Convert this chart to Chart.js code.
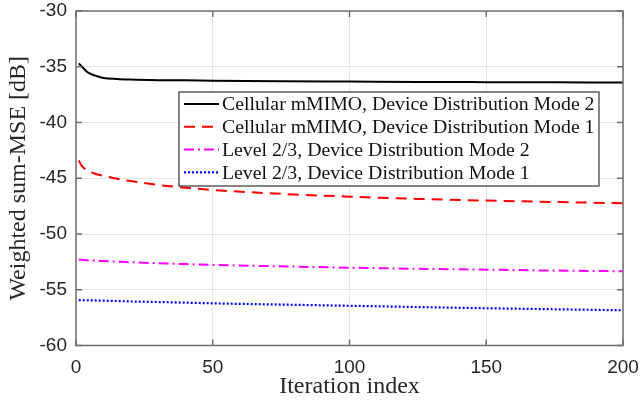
<!DOCTYPE html>
<html lang="en">
<head>
<meta charset="UTF-8">
<title>Weighted sum-MSE vs iteration</title>
<style>
    body {
        margin: 0;
        padding: 0;
        background: #fff;
    }
    .chart-container {
        position: relative;
        width: 642px;
        height: 405px;
    }
</style>
</head>
<body>
<div class="chart-container">
    <canvas id="mseChart" width="642" height="405"></canvas>
</div>

<script src="https://cdn.jsdelivr.net/npm/chart.js"></script>
<script>
    // Iteration indices where the curves are sampled
    const iterations = [1, 2, 3, 4, 5, 7, 10, 15, 20, 30, 40, 50, 75, 100, 125, 150, 175, 200];

    // Weighted sum-MSE in dB for each scheme
    const cellularMode2 = [-34.7, -34.95, -35.2, -35.45, -35.6, -35.8, -36.0, -36.1, -36.15, -36.2, -36.22, -36.25, -36.3, -36.33, -36.36, -36.38, -36.4, -36.42];
    const cellularMode1 = [-43.4, -43.85, -44.1, -44.3, -44.4, -44.6, -44.78, -45.05, -45.25, -45.6, -45.85, -46.05, -46.4, -46.65, -46.85, -47.0, -47.13, -47.24];
    const levelMode2 = [-52.3, -52.32, -52.34, -52.36, -52.37, -52.4, -52.43, -52.48, -52.53, -52.62, -52.7, -52.77, -52.9, -53.02, -53.12, -53.2, -53.28, -53.34];
    const levelMode1 = [-55.93, -55.93, -55.94, -55.94, -55.95, -55.96, -55.98, -56.01, -56.05, -56.1, -56.16, -56.22, -56.33, -56.44, -56.55, -56.66, -56.75, -56.84];

    const xTicks = [0, 50, 100, 150, 200];
    const yTicks = [-60, -55, -50, -45, -40, -35, -30];

    const seriesNames = [
        'Cellular mMIMO, Device Distribution Mode 2',
        'Cellular mMIMO, Device Distribution Mode 1',
        'Level 2/3, Device Distribution Mode 2',
        'Level 2/3, Device Distribution Mode 1'
    ];

    function toPoints(values) {
        return iterations.map((it, i) => ({ x: it, y: values[i] }));
    }

    const axisColor = '#6f6f6f';
    const serif = "'Liberation Serif', 'Times New Roman', serif";
    const sans = "'Liberation Sans', Arial, sans-serif";

    // Box around the plot area with inward ticks on all four sides
    const boxPlugin = {
        id: 'boxPlugin',
        afterDatasetsDraw(chart) {
            const { ctx, chartArea: a, scales } = chart;
            ctx.save();
            ctx.strokeStyle = axisColor;
            ctx.lineWidth = 1.5;
            const tl = 6;
            ctx.beginPath();
            xTicks.forEach(v => {
                const px = scales.x.getPixelForValue(v);
                ctx.moveTo(px, a.bottom); ctx.lineTo(px, a.bottom - tl);
                ctx.moveTo(px, a.top); ctx.lineTo(px, a.top + tl);
            });
            yTicks.forEach(v => {
                const py = scales.y.getPixelForValue(v);
                ctx.moveTo(a.left, py); ctx.lineTo(a.left + tl, py);
                ctx.moveTo(a.right, py); ctx.lineTo(a.right - tl, py);
            });
            ctx.stroke();
            ctx.strokeRect(a.left, a.top, a.right - a.left, a.bottom - a.top);
            ctx.restore();
        }
    };

    // Legend box in the upper right of the plot
    const legendPlugin = {
        id: 'legendBox',
        afterDraw(chart) {
            const { ctx } = chart;
            const bx = 179, by = 92, bw = 420, bh = 94;
            ctx.save();
            ctx.fillStyle = '#fff';
            ctx.fillRect(bx, by, bw, bh);
            ctx.strokeStyle = '#333';
            ctx.lineWidth = 1.2;
            ctx.strokeRect(bx, by, bw, bh);
            ctx.font = '19.8px ' + serif;
            ctx.textBaseline = 'middle';
            ctx.fillStyle = '#111';
            chart.data.datasets.forEach((ds, i) => {
                const cy = by + 12 + i * 22.8;
                ctx.beginPath();
                ctx.strokeStyle = ds.borderColor;
                ctx.lineWidth = ds.borderWidth;
                ctx.setLineDash(ds.borderDash || []);
                ctx.moveTo(184, cy);
                ctx.lineTo(219, cy);
                ctx.stroke();
                ctx.setLineDash([]);
                ctx.fillText(ds.label, 222, cy + 1);
            });
            ctx.restore();
        }
    };

    const ctx = document.getElementById('mseChart').getContext('2d');
    const mseChart = new Chart(ctx, {
        type: 'line',
        data: {
            datasets: [
                {
                    label: seriesNames[0],
                    data: toPoints(cellularMode2),
                    borderColor: '#000000',
                    borderWidth: 2,
                    borderDash: []
                },
                {
                    label: seriesNames[1],
                    data: toPoints(cellularMode1),
                    borderColor: '#ff0000',
                    borderWidth: 2,
                    borderDash: [11, 7]
                },
                {
                    label: seriesNames[2],
                    data: toPoints(levelMode2),
                    borderColor: '#ff00ff',
                    borderWidth: 2,
                    borderDash: [10, 4, 2, 4]
                },
                {
                    label: seriesNames[3],
                    data: toPoints(levelMode1),
                    borderColor: '#0000ff',
                    borderWidth: 2.2,
                    borderDash: [2, 2]
                }
            ]
        },
        options: {
            responsive: false,
            animation: false,
            devicePixelRatio: 1,
            layout: { padding: { top: 11, right: 19, left: 0, bottom: 0 } },
            elements: {
                point: { radius: 0 },
                line: { cubicInterpolationMode: 'monotone', fill: false }
            },
            plugins: {
                legend: { display: false },
                tooltip: { enabled: false }
            },
            scales: {
                x: {
                    type: 'linear',
                    min: 0,
                    max: 200,
                    afterFit(scale) {
                        scale.height = 59.5;
                        scale.paddingLeft = 0;
                        scale.paddingRight = 0;
                    },
                    afterBuildTicks(scale) { scale.ticks = xTicks.map(v => ({ value: v })); },
                    grid: { color: '#e6e6e6', lineWidth: 1, drawTicks: false },
                    border: { display: false },
                    ticks: {
                        padding: 11,
                        color: '#262626',
                        font: { family: sans, size: 19 }
                    },
                    title: {
                        display: true,
                        text: 'Iteration index',
                        color: '#262626',
                        font: { family: serif, size: 24 },
                        padding: { top: 0, bottom: 4 }
                    }
                },
                y: {
                    type: 'linear',
                    min: -60,
                    max: -30,
                    afterFit(scale) {
                        scale.width = 76;
                        scale.paddingTop = 0;
                        scale.paddingBottom = 0;
                    },
                    afterBuildTicks(scale) { scale.ticks = yTicks.map(v => ({ value: v })); },
                    grid: { color: '#e6e6e6', lineWidth: 1, drawTicks: false },
                    border: { display: false },
                    ticks: {
                        padding: 9,
                        color: '#262626',
                        font: { family: sans, size: 19 }
                    },
                    title: {
                        display: true,
                        text: 'Weighted sum-MSE [dB]',
                        color: '#262626',
                        font: { family: serif, size: 24 },
                        padding: { top: 4, bottom: 0 }
                    }
                }
            }
        },
        plugins: [boxPlugin, legendPlugin]
    });
</script>
</body>
</html>
